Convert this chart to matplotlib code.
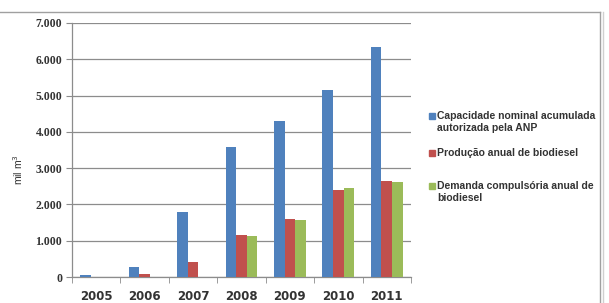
# Bar chart: biodiesel capacity, production and demand (mil m3), 2005-2011
import matplotlib.pyplot as plt
import numpy as np
from matplotlib.ticker import FuncFormatter

# Data
years = ['2005', '2006', '2007', '2008', '2009', '2010', '2011']
capacidade = [50, 280, 1800, 3570, 4300, 5160, 6330]
producao = [1, 70, 405, 1170, 1610, 2390, 2640]
demanda = [0, 0, 0, 1120, 1580, 2460, 2610]

labels = ['Capacidade nominal acumulada\nautorizada pela ANP',
          'Produção anual de biodiesel',
          'Demanda compulsória anual de\nbiodiesel']
colors = ['#4F81BD', '#C0504D', '#9BBB59']

fig = plt.figure(figsize=(6.09, 3.03), dpi=100)
ax = fig.add_axes([72/609, 1-277/303, (411-72)/609, (277-23)/303])

x = np.arange(len(years))
w = 0.22
ax.bar(x - w, capacidade, w, color=colors[0], zorder=3)
ax.bar(x, producao, w, color=colors[1], zorder=3)
ax.bar(x + w, demanda, w, color=colors[2], zorder=3)

ax.set_xlim(-0.5, len(years) - 0.5)
ax.set_ylim(0, 7000)
ax.set_yticks(np.arange(0, 7001, 1000))
ax.yaxis.set_major_formatter(FuncFormatter(lambda v, p: f'{int(v):,}'.replace(',', '.')))
ax.grid(axis='y', color='#8c8c8c', linewidth=0.9, zorder=0)

ax.set_xticks(x)
ax.set_xticklabels(years, fontfamily='DejaVu Sans', fontweight='bold', fontsize=8.5, color='#333333')
ax.set_xticks(np.arange(-0.5, len(years)), minor=True)
ax.tick_params(axis='x', which='major', length=0, pad=9)
ax.tick_params(axis='x', which='minor', length=4, color='#8c8c8c', direction='out')
ax.tick_params(axis='y', length=4, color='#8c8c8c', pad=3)
for t in ax.get_yticklabels():
    t.set_fontfamily('Liberation Serif')
    t.set_fontweight('bold')
    t.set_fontsize(8.5)
    t.set_color('#333333')

for s in ['top', 'right']:
    ax.spines[s].set_visible(False)
for s in ['left', 'bottom']:
    ax.spines[s].set_color('#8c8c8c')
    ax.spines[s].set_linewidth(0.9)

fig.text(18/609, 1-170/303, 'mil m$^3$', rotation=90, ha='center', va='center',
         fontfamily='Liberation Sans', fontsize=7.5, color='#333333')

# legend drawn by hand to keep the uneven spacing
entries_y = [116, 153, 186]
for lab, col, yy in zip(labels, colors, entries_y):
    fig.patches.append(plt.Rectangle((429/609, 1-(yy+3)/303), 6/609, 6/303,
                                     transform=fig.transFigure, color=col))
    fig.text(437/609, 1-(yy-5)/303, lab, ha='left', va='top', linespacing=1.2,
             fontfamily='Liberation Sans', fontweight='bold', fontsize=7.5, color='#333333')

# outer frame
fig.add_artist(plt.Line2D([0, 600/609], [1-11.7/303]*2, color='#a0a0a0', lw=1))
fig.add_artist(plt.Line2D([600/609]*2, [0, 1-11.7/303], color='#a0a0a0', lw=1))
fig.add_artist(plt.Line2D([603/609]*2, [0, 1-11.7/303], color='#d0d0d0', lw=1))

fig.savefig('out.png', dpi=100)
